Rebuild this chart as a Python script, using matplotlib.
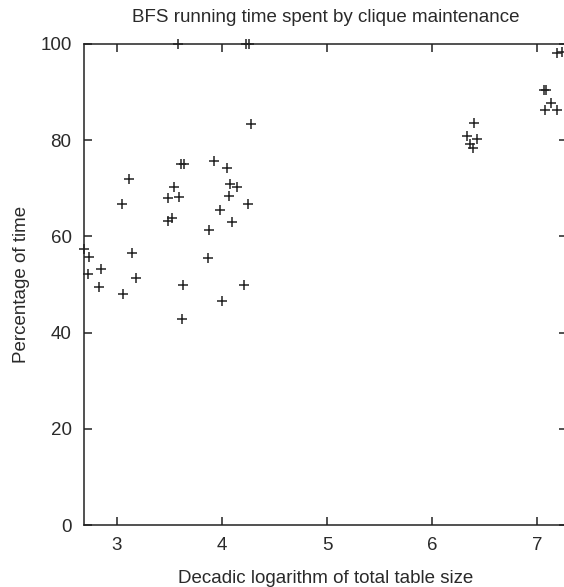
import matplotlib
matplotlib.use('Agg')
import matplotlib.pyplot as plt

# log10 of total table size vs percentage of time
table_size_log = [2.686, 2.730, 2.724, 2.845, 2.826, 3.060, 3.048, 3.114, 3.140, 3.184,
                  3.483, 3.483, 3.521, 3.543, 3.579, 3.591, 3.607, 3.639, 3.626, 3.620,
                  3.867, 3.877, 3.922, 3.985, 3.998, 4.052, 4.065, 4.077, 4.096, 4.147,
                  4.214, 4.232, 4.262, 4.246, 4.277,
                  6.334, 6.358, 6.390, 6.400, 6.429,
                  7.064, 7.090, 7.077, 7.137, 7.188, 7.195, 7.235]
percent_time = [57.4, 55.8, 52.1, 53.3, 49.4, 48.1, 66.7, 72.0, 56.5, 51.4,
                68.0, 63.2, 63.9, 70.2, 100.0, 68.1, 75.0, 75.0, 50.0, 42.8,
                55.6, 61.3, 75.7, 65.4, 46.6, 74.3, 68.4, 70.8, 62.9, 70.2,
                50.0, 100.0, 100.0, 66.7, 83.4,
                80.9, 79.2, 78.4, 83.5, 80.2,
                90.4, 90.4, 86.2, 87.7, 86.3, 98.1, 98.3]

x_ticks = [3, 4, 5, 6, 7]
y_ticks = [0, 20, 40, 60, 80, 100]

plt.rcParams['font.family'] = ['Liberation Sans', 'DejaVu Sans']
fs = 13.5

fig = plt.figure(figsize=(5.64, 5.87), dpi=100)
ax = fig.add_axes([84 / 564, 1 - 525 / 587, (567 - 84) / 564, (525 - 44) / 587])

ax.plot(table_size_log, percent_time, linestyle='none', marker='+',
        markersize=7, markeredgewidth=1.1, color='#222222', clip_on=False)

ax.set_xlim(2.686, 7.286)
ax.set_ylim(0, 100)
ax.set_xticks(x_ticks)
ax.set_yticks(y_ticks)
ax.tick_params(direction='in', length=5.5, width=1.1, color='#222222',
               labelcolor='#2a2a2a', top=True, right=True, labelsize=fs, pad=9)
ax.tick_params(axis='x', pad=9)
for s in ax.spines.values():
    s.set_linewidth(1.1)
    s.set_color('#222222')

ax.set_title('BFS running time spent by clique maintenance', fontsize=fs,
             color='#2a2a2a', pad=16)
ax.set_xlabel('Decadic logarithm of total table size', fontsize=fs, color='#2a2a2a', labelpad=11)
ax.set_ylabel('Percentage of time', fontsize=fs, color='#2a2a2a', labelpad=7)

fig.savefig('out.png', dpi=100)
